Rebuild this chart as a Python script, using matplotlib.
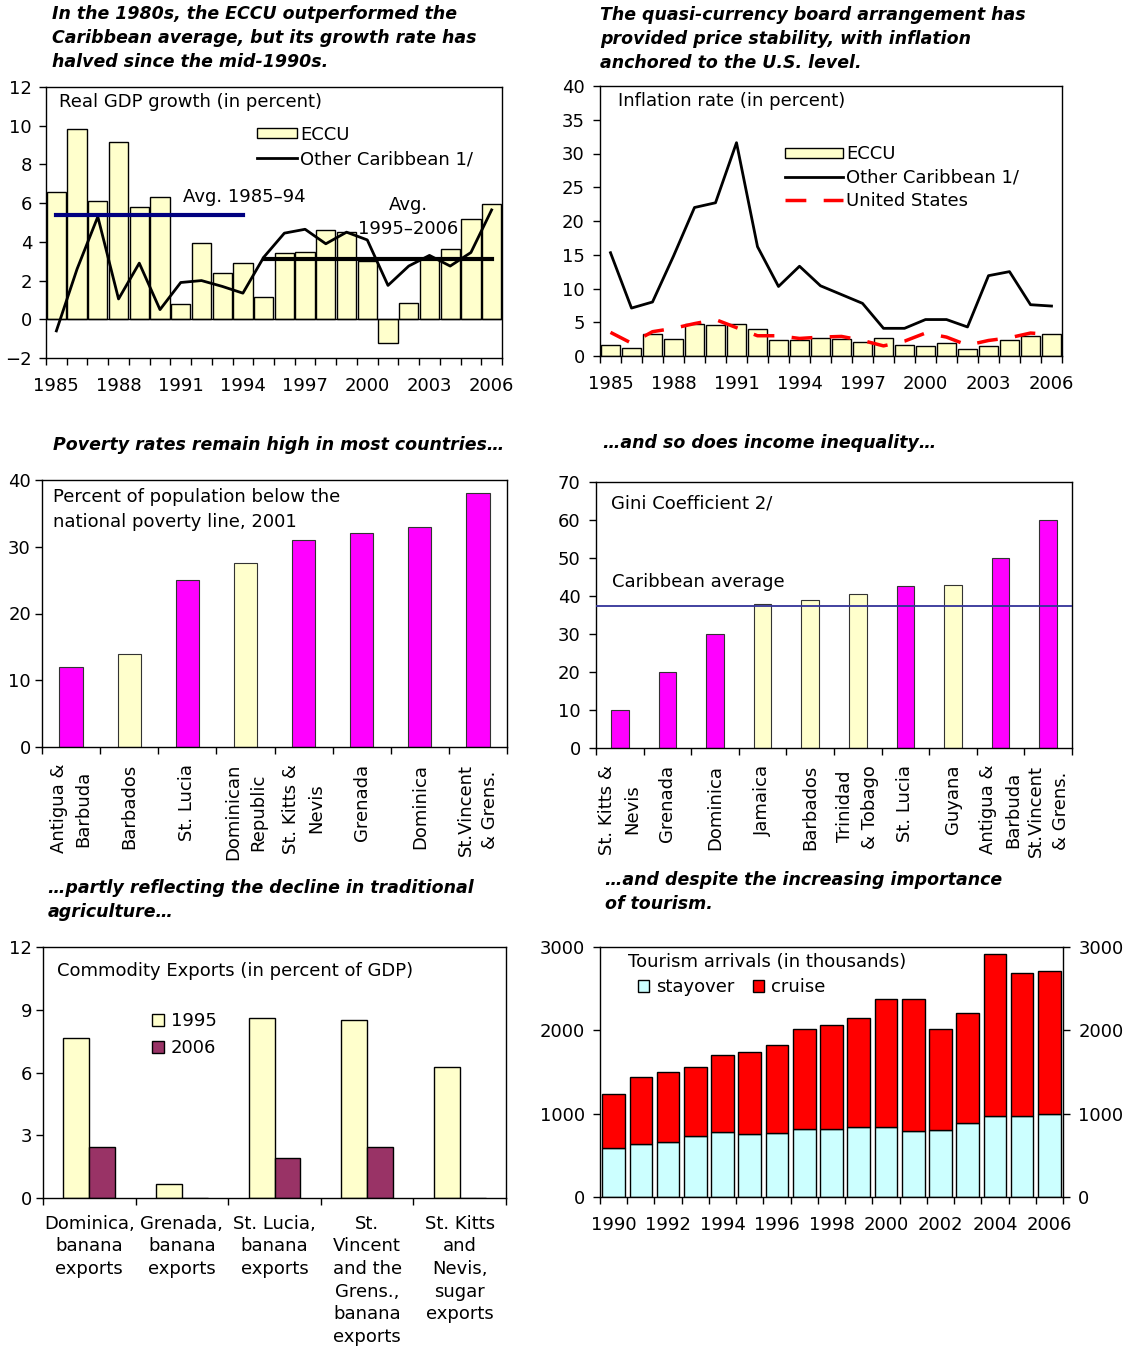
import matplotlib
matplotlib.use('Agg')
import matplotlib.pyplot as plt
from matplotlib.patches import Patch
from matplotlib.lines import Line2D

plt.rcParams['font.family'] = ['DejaVu Sans']
plt.rcParams['font.size'] = 13
plt.rcParams['axes.linewidth'] = 1.0

# ---------------- data ----------------
years = list(range(1985, 2007))
gdp_eccu = [6.6, 9.85, 6.1, 9.15, 5.8, 6.3, 0.8, 3.95, 2.4, 2.9, 1.15, 3.45, 3.5, 4.6,
            4.5, 3.0, -1.2, 0.85, 3.1, 3.65, 5.2, 5.95]
gdp_other = [-0.6, 2.6, 5.3, 1.05, 2.9, 0.5, 1.9, 2.0, 1.7, 1.35, 3.2, 4.45, 4.65, 3.9,
             4.5, 4.1, 1.75, 2.75, 3.3, 2.75, 3.45, 5.65]
avg_early_years = [1985, 1994]
avg_early = 5.4
avg_late_years = [1995, 2006]
avg_late = 3.1

infl_eccu = [1.7, 1.2, 3.2, 2.5, 4.8, 4.6, 4.8, 4.0, 2.3, 2.3, 2.7, 2.5, 2.1, 2.6,
             1.7, 1.5, 1.9, 1.1, 1.5, 2.3, 2.9, 3.2]
infl_other = [15.3, 7.1, 8.0, 14.8, 22.0, 22.7, 31.6, 16.2, 10.3, 13.3, 10.4, 9.1, 7.8,
              4.1, 4.1, 5.4, 5.4, 4.3, 11.9, 12.5, 7.6, 7.4]
infl_us = [3.5, 1.9, 3.6, 4.1, 4.8, 5.4, 4.2, 3.0, 3.0, 2.6, 2.8, 2.9, 2.3, 1.5, 2.2,
           3.4, 2.8, 1.6, 2.3, 2.7, 3.4, 3.2]
year_labels = [1985, 1988, 1991, 1994, 1997, 2000, 2003, 2006]

pov_countries = ['Antigua &\nBarbuda', 'Barbados', 'St. Lucia', 'Dominican\nRepublic',
                 'St. Kitts &\nNevis', 'Grenada', 'Dominica', 'St.Vincent\n& Grens.']
pov_values = [12, 14, 25, 27.6, 31, 32, 33, 38]
pov_eccu = [True, False, True, False, True, True, True, True]

gini_countries = ['St. Kitts &\nNevis', 'Grenada', 'Dominica', 'Jamaica', 'Barbados',
                  'Trinidad\n& Tobago', 'St. Lucia', 'Guyana', 'Antigua &\nBarbuda',
                  'St.Vincent\n& Grens.']
gini_values = [10, 20, 30, 37.8, 38.9, 40.4, 42.6, 43.0, 50, 60]
gini_eccu = [True, True, True, False, False, False, True, False, True, True]
gini_avg = 37.3

comm_labels = ['Dominica,\nbanana\nexports', 'Grenada,\nbanana\nexports',
               'St. Lucia,\nbanana\nexports',
               'St.\nVincent\nand the\nGrens.,\nbanana\nexports',
               'St. Kitts\nand\nNevis,\nsugar\nexports']
comm_1995 = [7.65, 0.65, 8.6, 8.5, 6.25]
comm_2006 = [2.45, 0.0, 1.9, 2.45, 0.0]

tour_years = list(range(1990, 2007))
stayover = [591, 631, 663, 731, 783, 751, 763, 819, 819, 835, 835, 787, 803, 887, 971, 971, 991]
cruise = [643, 807, 839, 827, 927, 991, 1067, 1199, 1247, 1318, 1538, 1586, 1215, 1318,
          1950, 1714, 1726]
tour_labels = [1990, 1992, 1994, 1996, 1998, 2000, 2002, 2004, 2006]

# ---------------- style ----------------
YEL = '#FFFFCC'
MAG = '#FF00FF'
MAROON = '#993366'
CYAN = '#CCFFFF'
RED = '#FF0000'
NAVY = '#000080'

W, H = 1127, 1349
fig = plt.figure(figsize=(W / 100, H / 100), dpi=100)


def add_ax(x0, y0, x1, y1):
    return fig.add_axes([x0 / W, 1 - y1 / H, (x1 - x0) / W, (y1 - y0) / H])


def cat_axis(ax, n, labels, centers, lpad, rot=0, start=0, ls=1.0):
    bounds = [start - 0.5 + i for i in range(n + 1)]
    ax.set_xticks(bounds)
    ax.set_xticklabels([])
    ax.set_xticks(centers, minor=True)
    ax.set_xticklabels(labels, minor=True, rotation=rot)
    ax.tick_params(axis='x', which='major', direction='out', length=5, width=1)
    ax.tick_params(axis='x', which='minor', length=0, pad=lpad)
    for t in ax.get_xticklabels(minor=True):
        t.set_multialignment('center')
        t.set_linespacing(ls)
    ax.set_xlim(bounds[0], bounds[-1])


def y_style(ax, pad):
    ax.tick_params(axis='y', direction='out', length=5, width=1, pad=pad)


title_kw = dict(fontsize=12.5, fontweight='bold', style='italic', va='center', ha='left',
                linespacing=1.45)

# ---------------- GDP ----------------
ax = add_ax(46, 87, 502, 358)
ax.bar(years, gdp_eccu, width=0.93, color=YEL, edgecolor='black', linewidth=1, zorder=2)
ax.plot(years, gdp_other, color='black', lw=2, zorder=3)
ax.plot(avg_early_years, [avg_early, avg_early], color=NAVY, lw=3, zorder=4)
ax.plot(avg_late_years, [avg_late, avg_late], color='black', lw=3, zorder=4)
ax.axhline(0, color='black', lw=1, zorder=2.5)
ax.set_ylim(-2, 12)
ax.set_yticks(range(-2, 13, 2))
cat_axis(ax, len(years), [str(y) for y in year_labels], year_labels, 14, start=years[0])
y_style(ax, 5)
ax.text(0.028, 0.945, 'Real GDP growth (in percent)', transform=ax.transAxes, va='center')
ax.text(0.30, 0.593, 'Avg. 1985\u201394', transform=ax.transAxes, va='center')
ax.text(0.795, 0.52, 'Avg.\n1995\u20132006', transform=ax.transAxes, va='center',
        ha='center', linespacing=1.45)
ax.legend([Patch(facecolor=YEL, edgecolor='black'), Line2D([], [], color='black', lw=2)],
          ['ECCU', 'Other Caribbean 1/'], loc='upper left', bbox_to_anchor=(0.463, 0.857),
          frameon=False, borderpad=0, borderaxespad=0, handlelength=2.2, handleheight=0.5,
          handletextpad=0.2, labelspacing=0.35)
fig.text(52 / W, 1 - 38 / H,
         'In the 1980s, the ECCU outperformed the\nCaribbean average, but its growth rate has\nhalved since the mid-1990s.',
         **title_kw)

# ---------------- Inflation ----------------
ax = add_ax(600, 86, 1062, 356)
ax.bar(years, infl_eccu, width=0.92, color=YEL, edgecolor='black', linewidth=1, zorder=2)
ax.plot(years, infl_other, color='black', lw=2, zorder=3)
ax.plot(years, infl_us, color=RED, lw=2.5, dashes=(6, 5), zorder=4)
ax.set_ylim(0, 40)
ax.set_yticks(range(0, 41, 5))
cat_axis(ax, len(years), [str(y) for y in year_labels], year_labels, 14, start=years[0])
y_style(ax, 6)
ax.text(0.04, 0.945, 'Inflation rate (in percent)', transform=ax.transAxes, va='center')
ax.legend([Patch(facecolor=YEL, edgecolor='black'), Line2D([], [], color='black', lw=2),
           Line2D([], [], color=RED, lw=2.5, dashes=(6, 5))],
          ['ECCU', 'Other Caribbean 1/', 'United States'], loc='upper left',
          bbox_to_anchor=(0.40, 0.78), frameon=False, borderpad=0, borderaxespad=0,
          handlelength=3.2, handleheight=0.55, handletextpad=0.2, labelspacing=0.3)
fig.text(600 / W, 1 - 39 / H,
         'The quasi-currency board arrangement has\nprovided price stability, with inflation\nanchored to the U.S. level.',
         **title_kw)

# ---------------- Poverty ----------------
ax = add_ax(42, 480, 507, 747)
xs = list(range(len(pov_values)))
ax.bar(xs, pov_values, width=0.4, color=[MAG if e else YEL for e in pov_eccu],
       edgecolor='#333333', linewidth=0.8, zorder=2)
ax.set_ylim(0, 40)
ax.set_yticks(range(0, 41, 10))
cat_axis(ax, len(xs), pov_countries, xs, 12, rot=90, ls=1.5)
y_style(ax, 3)
ax.text(0.024, 0.89, 'Percent of population below the\nnational poverty line, 2001',
        transform=ax.transAxes, va='center', linespacing=1.45)
fig.text(53 / W, 1 - 445 / H, 'Poverty rates remain high in most countries\u2026', **title_kw)

# ---------------- Gini ----------------
ax = add_ax(596, 482, 1072, 748)
xs = list(range(len(gini_values)))
ax.bar(xs, gini_values, width=0.37, color=[MAG if e else YEL for e in gini_eccu],
       edgecolor='#333333', linewidth=0.8, zorder=2)
ax.axhline(gini_avg, color='#333399', lw=1.3, zorder=3)
ax.set_ylim(0, 70)
ax.set_yticks(range(0, 71, 10))
cat_axis(ax, len(xs), gini_countries, xs, 12, rot=90, ls=1.5)
y_style(ax, 6)
ax.text(0.032, 0.92, 'Gini Coefficient 2/', transform=ax.transAxes, va='center')
ax.text(0.034, 0.624, 'Caribbean average', transform=ax.transAxes, va='center')
fig.text(603 / W, 1 - 443 / H, '\u2026and so does income inequality\u2026', **title_kw)

# ---------------- Commodity ----------------
ax = add_ax(43, 947, 506, 1198)
xs = list(range(len(comm_1995)))
bw = 0.28
ax.bar([x - bw / 2 for x in xs], comm_1995, width=bw, color=YEL, edgecolor='black',
       linewidth=1, zorder=2, label='1995')
ax.bar([x + bw / 2 for x in xs], comm_2006, width=bw, color=MAROON, edgecolor='black',
       linewidth=1, zorder=2, label='2006')
ax.set_ylim(0, 12)
ax.set_yticks(range(0, 13, 3))
cat_axis(ax, len(xs), comm_labels, xs, 12, ls=1.33)
y_style(ax, 3)
ax.text(0.03, 0.905, 'Commodity Exports (in percent of GDP)', transform=ax.transAxes,
        va='center')
ax.legend(loc='upper left', bbox_to_anchor=(0.235, 0.74), frameon=False, borderpad=0,
          borderaxespad=0, handlelength=0.65, handleheight=0.65, handletextpad=0.4,
          labelspacing=0.5)
fig.text(48 / W, 1 - 900 / H,
         '\u2026partly reflecting the decline in traditional\nagriculture\u2026', **title_kw)

# ---------------- Tourism ----------------
ax = add_ax(600, 947, 1063, 1197)
ax.bar(tour_years, stayover, width=0.83, color=CYAN, edgecolor='black', linewidth=1,
       zorder=2, label='stayover')
ax.bar(tour_years, cruise, bottom=stayover, width=0.83, color=RED, edgecolor='black',
       linewidth=1, zorder=2, label='cruise')
ax.set_ylim(0, 3000)
ax.set_yticks(range(0, 3001, 1000))
cat_axis(ax, len(tour_years), [str(y) for y in tour_labels], tour_labels, 14,
         start=tour_years[0])
ax.tick_params(axis='y', direction='out', length=5, width=1, pad=6, right=True,
               labelright=True)
ax.text(0.06, 0.94, 'Tourism arrivals (in thousands)', transform=ax.transAxes, va='center')
ax.legend(loc='upper left', bbox_to_anchor=(0.083, 0.875), frameon=False, borderpad=0,
          borderaxespad=0, ncol=2, handlelength=0.6, handleheight=0.6, handletextpad=0.4,
          columnspacing=1.0)
fig.text(605 / W, 1 - 892 / H,
         '\u2026and despite the increasing importance\nof tourism.', **title_kw)

fig.savefig('out.png', dpi=100)
